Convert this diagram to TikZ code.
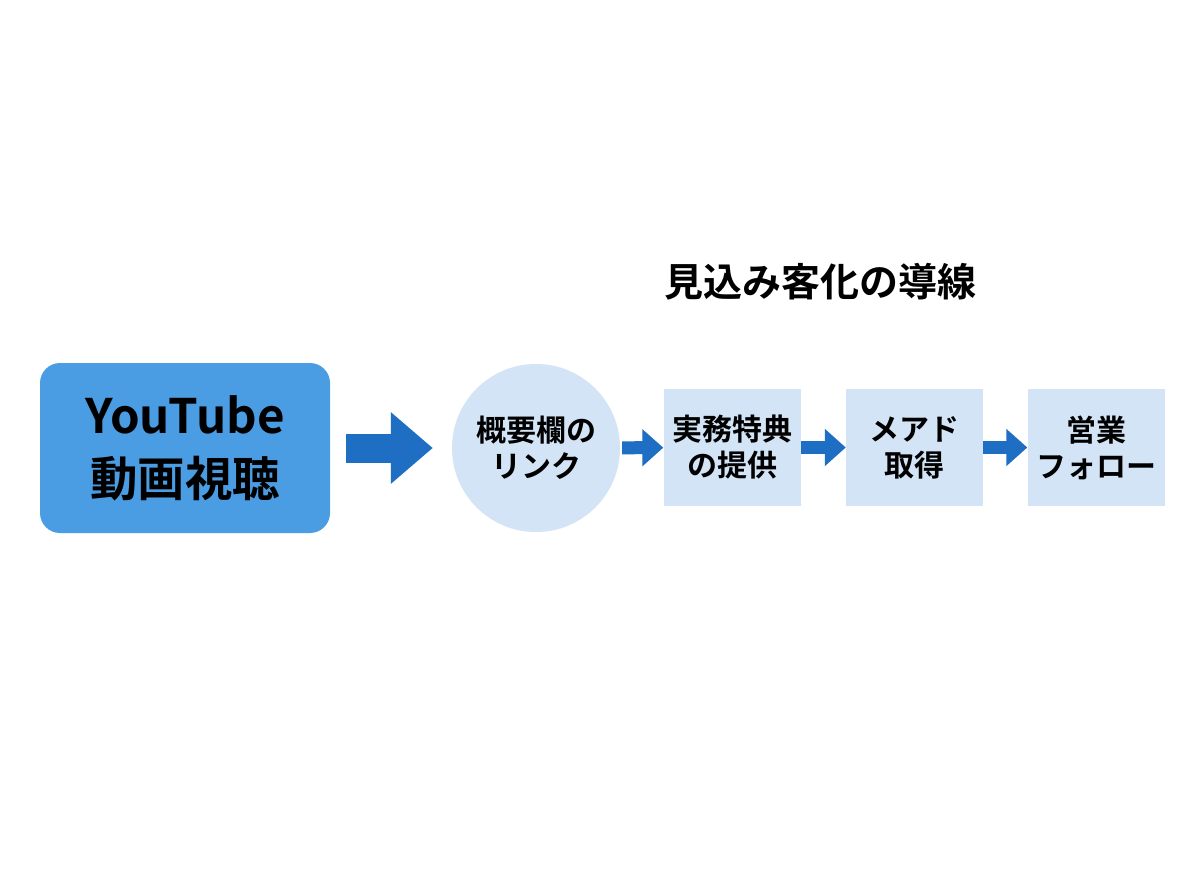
\documentclass[tikz,border=0pt]{standalone}
\usepackage{fontspec}
\setmainfont{Noto Sans CJK JP}[BoldFont={Noto Sans CJK JP Bold}]
\usetikzlibrary{arrows.meta}
\definecolor{ytblue}{RGB}{74,157,226}
\definecolor{pale}{RGB}{210,228,245}
\definecolor{arrblue}{RGB}{30,110,195}
\tikzset{
  stage/.style={fill=pale, minimum width=137pt, minimum height=117pt, align=center,
    font=\bfseries\fontsize{30pt}{36pt}\selectfont},
  smarr/.style={arrblue, line width=13pt, -{Triangle[length=21pt, width=36pt]}},
  bigarr/.style={arrblue, line width=29pt, -{Triangle[length=42pt, width=69pt]}}
}
\begin{document}
\begin{tikzpicture}[x=1pt, y=-1pt]
\useasboundingbox[fill=white](0,0) rectangle (1200,896);

\node[font=\bfseries\fontsize{39pt}{47pt}\selectfont](title) at (820,282){見込み客化の導線};

\node[fill=ytblue, rounded corners=20pt, minimum width=290pt, minimum height=170pt, align=center,
  font=\bfseries\fontsize{47.5pt}{63pt}\selectfont](yt) at (185,448){YouTube\\動画視聴};
\node[circle, fill=pale, minimum size=168pt, align=center,
  font=\bfseries\fontsize{30pt}{36pt}\selectfont](gai) at (536,448){概要欄の\\リンク};
\node[stage](tok) at (732,447.5){実務特典\\の提供};
\node[stage](mail) at (914.5,447.5){メアド\\取得};
\node[stage](eig) at (1096,447.5){営業\\フォロー};

\draw[bigarr, shorten <=16pt, shorten >=19pt](yt) -- (gai);
\draw[smarr, shorten <=2pt](gai) -- (tok);
\draw[smarr](tok) -- (mail);
\draw[smarr](mail) -- (eig);
\end{tikzpicture}
\end{document}
